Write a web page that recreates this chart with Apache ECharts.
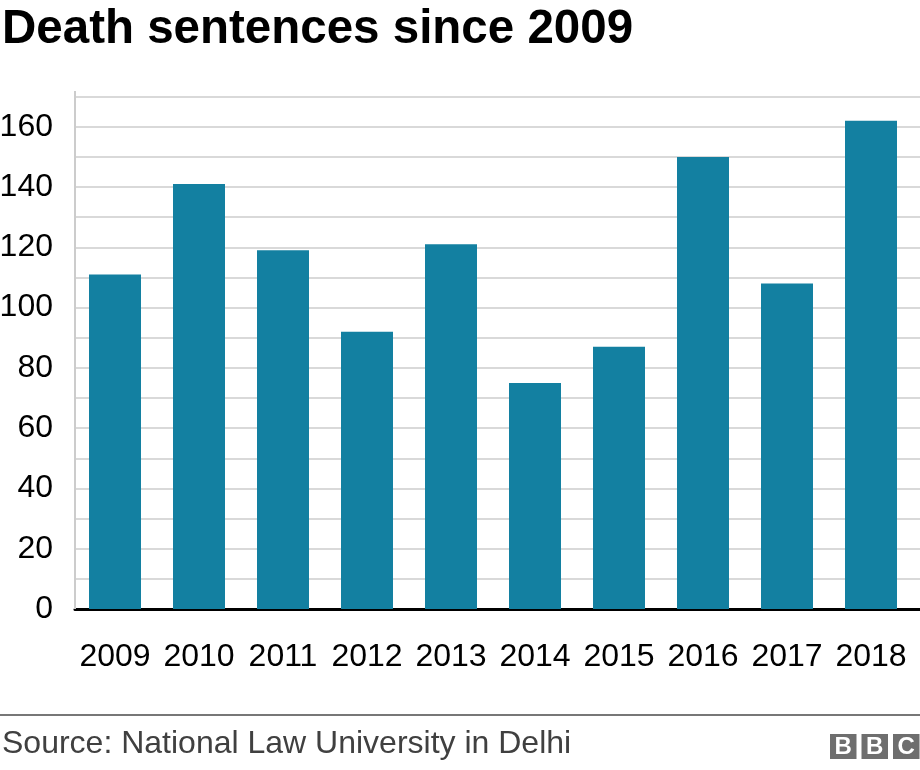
<!DOCTYPE html>
<html>
<head>
<meta charset="utf-8">
<title>Death sentences since 2009</title>
<script src="https://cdn.jsdelivr.net/npm/echarts@6/dist/echarts.min.js"></script>
<style>
  html, body { margin: 0; padding: 0; background: #fff; }
  #chart { width: 920px; height: 770px; }
</style>
</head>
<body>
<div id="chart"></div>
<script>
// Datos
const years = ['2009', '2010', '2011', '2012', '2013', '2014', '2015', '2016', '2017', '2018'];
const sentences = [111, 141, 119, 92, 121, 75, 87, 150, 108, 162];
const yMax = 170;
const yStep = 10;
const labelStep = 20;

const FONT = '"Liberation Sans", Arial, Helvetica, sans-serif';
const BAR_COLOR = '#1380A1';
const GRID_COLOR = '#cccccc';

const plotTop = 96.6;
const plotBottom = 161; // 770 - 609

const chart = echarts.init(document.getElementById('chart'), null, { renderer: 'canvas' });

const option = {
    backgroundColor: '#ffffff',
    animation: false,
    title: [
        {
            text: 'Death sentences since 2009',
            left: 2,
            top: 6,
            padding: 0,
            textStyle: { fontFamily: FONT, fontSize: 47.5, fontWeight: 'bold', color: '#000000' }
        },
        {
            text: 'Source: National Law University in Delhi',
            left: 2,
            top: 728,
            padding: 0,
            textStyle: { fontFamily: FONT, fontSize: 32, fontWeight: 'normal', color: '#404040' }
        }
    ],
    grid: [
        // rejilla de fondo: líneas guía y línea base hasta el borde derecho
        { left: 75, right: 0, top: plotTop, bottom: plotBottom, outerBoundsMode: 'none' },
        // rejilla de las barras
        { left: 73, right: 7, top: plotTop, bottom: plotBottom, outerBoundsMode: 'none' }
    ],
    xAxis: [
        {
            gridIndex: 0,
            type: 'value',
            min: 0,
            max: 1,
            axisLine: { show: true, onZero: false, lineStyle: { color: '#000000', width: 3 } },
            axisTick: { show: false },
            axisLabel: { show: false },
            splitLine: { show: false }
        },
        {
            gridIndex: 1,
            type: 'category',
            data: years,
            axisLine: { show: false },
            axisTick: { show: false },
            axisLabel: { interval: 0, fontFamily: FONT, fontSize: 32, color: '#000000', margin: 32 }
        }
    ],
    yAxis: [
        {
            gridIndex: 0,
            type: 'value',
            min: 0,
            max: yMax,
            interval: yStep,
            axisLine: { show: false },
            axisTick: { show: false },
            axisLabel: { show: false },
            splitLine: { show: true, lineStyle: { color: GRID_COLOR, width: 1.5 } }
        },
        {
            gridIndex: 1,
            type: 'value',
            min: 0,
            max: yMax,
            interval: yStep,
            axisLine: { show: false },
            axisTick: { show: false },
            splitLine: { show: false },
            axisLabel: {
                fontFamily: FONT,
                fontSize: 32,
                color: '#000000',
                margin: 20,
                formatter: v => (v % labelStep === 0 ? String(v) : '')
            }
        }
    ],
    series: [
        {
            type: 'bar',
            xAxisIndex: 1,
            yAxisIndex: 1,
            data: sentences,
            barWidth: 52,
            itemStyle: { color: BAR_COLOR },
            z: 3
        }
    ],
    graphic: [
        // eje vertical gris, sobresale un poco por encima de la última línea
        {
            type: 'line',
            shape: { x1: 75, y1: 91, x2: 75, y2: 609 },
            style: { stroke: GRID_COLOR, lineWidth: 2 },
            z: 1
        },
        // separador del pie
        {
            type: 'line',
            shape: { x1: 0, y1: 715, x2: 920, y2: 715 },
            style: { stroke: '#777777', lineWidth: 2 }
        },
        // logo BBC
        ...['B', 'B', 'C'].map((ch, i) => ({
            type: 'group',
            left: 830 + i * 31.5,
            top: 734,
            children: [
                { type: 'rect', shape: { x: 0, y: 0, width: 26.5, height: 25 }, style: { fill: '#6e6e6e' } },
                {
                    type: 'text',
                    style: {
                        text: ch, x: 13.25, y: 13, align: 'center', verticalAlign: 'middle',
                        fill: '#ffffff', font: 'bold 24px ' + FONT
                    }
                }
            ]
        }))
    ]
};

chart.setOption(option);
</script>
</body>
</html>
